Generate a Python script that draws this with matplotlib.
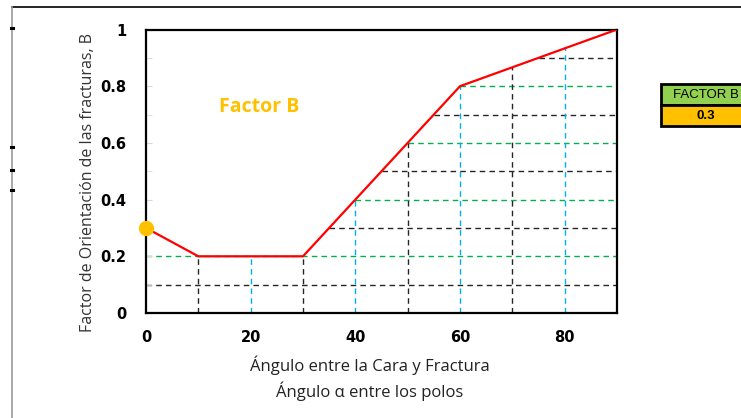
import numpy as np
import matplotlib
matplotlib.use("Agg")
import matplotlib.pyplot as plt
from matplotlib.lines import Line2D
from matplotlib.patches import Rectangle

# curve of factor B vs angle
angle = [0, 10, 30, 60, 90]
factor = [0.3, 0.2, 0.2, 0.8, 1.0]

# current reading
current_angle = 0
current_factor = 0.3

# guide lines
h_levels = [0.1, 0.2, 0.3, 0.4, 0.5, 0.6, 0.7, 0.8, 0.9]
h_colors = ['k', 'g', 'k', 'g', 'k', 'g', 'k', 'g', 'k']
v_levels = [10, 20, 30, 40, 50, 60, 70, 80]
v_colors = ['k', 'b', 'k', 'b', 'k', 'b', 'k', 'b']

y_ticks = [0, 0.2, 0.4, 0.6, 0.8, 1]
y_ticklabels = ['0', '0.2', '0.4', '0.6', '0.8', '1']
x_ticks = [0, 20, 40, 60, 80]

palette = {'k': '#262626', 'g': '#00B050', 'b': '#00B0F0'}
W, H = 741, 418

fig = plt.figure(figsize=(W / 100, H / 100), dpi=100)
ax = fig.add_axes([146 / W, 1 - 313 / H, (617 - 146) / W, (313 - 29.5) / H])

# horizontal guides start on the rising part of the curve
rise_a = angle[2:]
rise_f = factor[2:]
for lv, c in zip(h_levels, h_colors):
    x0 = 0 if lv <= factor[2] else np.interp(lv, rise_f, rise_a)
    ax.plot([x0, 90], [lv, lv], ls=(0, (4, 3)), lw=1.0, color=palette[c], zorder=1)
for xv, c in zip(v_levels, v_colors):
    y1 = np.interp(xv, angle, factor)
    ax.plot([xv, xv], [0, y1], ls=(0, (4, 3)), lw=1.0, color=palette[c], zorder=1)

ax.plot(angle, factor, color='#FF0000', lw=1.6, zorder=3)
ax.plot([current_angle], [current_factor], 'o', color='#FFC000', ms=11,
        mec='none', zorder=4, clip_on=False)

ax.set_xlim(0, 90)
ax.set_ylim(0, 1)
ax.set_yticks(y_ticks)
ax.set_yticklabels(y_ticklabels)
ax.set_yticks(np.arange(0.1, 1.0, 0.2), minor=True)
ax.set_xticks(x_ticks)
for lab in ax.get_xticklabels() + ax.get_yticklabels():
    lab.set_fontweight('bold')
    lab.set_fontsize(10.5)
ax.tick_params(axis='y', which='both', direction='in', length=4, color='#d9d9d9', pad=14)
ax.tick_params(axis='x', length=0, pad=12)
for s in ax.spines.values():
    s.set_linewidth(1.6)
    s.set_color('black')

ax.text(21.6, 0.725, 'Factor B', color='#FFC000', fontsize=14,
        fontweight='bold', ha='center', va='center', family='Open Sans')

fig.text(88 / W, 1 - 182 / H, 'Factor de Orientación de las fracturas, B', fontsize=11.5,
         family='Open Sans', color='#333333', rotation=90, ha='center', va='center')
fig.text(370 / W, 1 - 365 / H, 'Ángulo entre la Cara y Fractura', fontsize=12,
         family='Open Sans', color='#222222', ha='center', va='center')
fig.text(370 / W, 1 - 391 / H, 'Ángulo α entre los polos', fontsize=12,
         family='Open Sans', color='#222222', ha='center', va='center')

# small result table on the right
fig.patches.append(Rectangle((661 / W, 1 - 105 / H), 90 / W, 21 / H,
                             transform=fig.transFigure, facecolor='#92D050',
                             edgecolor='black', lw=2))
fig.patches.append(Rectangle((661 / W, 1 - 126 / H), 90 / W, 21 / H,
                             transform=fig.transFigure, facecolor='#FFC000',
                             edgecolor='black', lw=2))
fig.text(706 / W, 1 - 95 / H, 'FACTOR B', fontsize=9.5, family='Liberation Sans',
         ha='center', va='center')
fig.text(706 / W, 1 - 116 / H, f'{current_factor}', fontsize=9.5, fontweight='bold',
         family='Liberation Sans', ha='center', va='center')

# outer frame
fig.lines.append(Line2D([12 / W, 1], [1 - 7 / H, 1 - 7 / H], transform=fig.transFigure,
                        color='black', lw=1.2))
fig.lines.append(Line2D([12 / W, 12 / W], [0, 1 - 7 / H], transform=fig.transFigure,
                        color='#999999', lw=1.2))
for yy in [28, 147, 170, 190]:
    fig.lines.append(Line2D([10.5 / W, 13.5 / W], [1 - yy / H, 1 - yy / H],
                            transform=fig.transFigure, color='black', lw=2.2))

fig.savefig('out.png', dpi=100)
